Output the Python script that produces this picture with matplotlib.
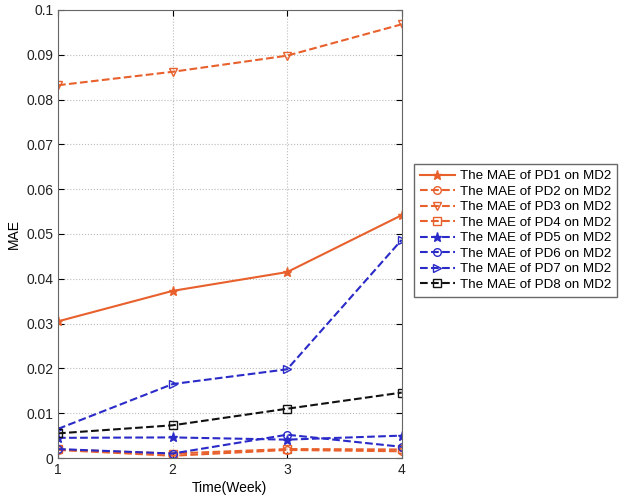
import matplotlib
matplotlib.use("Agg")
import matplotlib.pyplot as plt

plt.rcParams['font.family'] = ['Liberation Sans', 'DejaVu Sans']

weeks = [1, 2, 3, 4]
labels = ['The MAE of PD%d on MD2' % i for i in range(1, 9)]

pd1 = [0.0305, 0.0373, 0.0415, 0.0542]
pd2 = [0.0018, 0.0005, 0.0018, 0.0015]
pd3 = [0.0832, 0.0862, 0.0898, 0.0968]
pd4 = [0.0019, 0.0010, 0.0020, 0.0019]
pd5 = [0.0045, 0.0046, 0.0041, 0.0050]
pd6 = [0.0020, 0.0010, 0.0052, 0.0025]
pd7 = [0.0065, 0.0165, 0.0198, 0.0487]
pd8 = [0.0055, 0.0073, 0.0110, 0.0146]

orange = '#e8602c'
blue = '#2a2ac8'
black = '#111111'

series = [pd1, pd2, pd3, pd4, pd5, pd6, pd7, pd8]
colors = [orange, orange, orange, orange, blue, blue, blue, black]
markers = ['*', 'o', 'v', 's', '*', 'o', '>', 's']
styles = ['-', '--', '--', '--', '--', '--', '--', '--']

fig = plt.figure(figsize=(6.19, 4.98), dpi=100)
ax = fig.add_axes([0.0937, 0.0803, 0.5553, 0.8997])

for y, c, m, ls, lab in zip(series, colors, markers, styles, labels):
    ax.plot(weeks, y, color=c, marker=m, linestyle=ls, linewidth=1.5,
            markersize=6.5 if m == '*' else 5.5, markerfacecolor='none' if m != '*' else c,
            markeredgewidth=1.0, label=lab)

ax.set_xlim(1, 4)
ax.set_ylim(0, 0.1)
ax.set_xticks(weeks)
ax.set_yticks([i / 100 for i in range(11)])
ax.set_yticklabels(['0'] + ['%.2f' % (i / 100) for i in range(1, 10)] + ['0.1'])
ax.tick_params(direction='in', top=True, right=True, labelsize=10, length=4,
               labelcolor='#222222')
ax.grid(True, linestyle=':', color='#bbbbbb', linewidth=0.8)
for s in ax.spines.values():
    s.set_color('#666666')
ax.set_xlabel('Time(Week)', fontsize=10, labelpad=3)
ax.set_ylabel('MAE', fontsize=10)

fig.legend(loc='upper left', bbox_to_anchor=(0.669, 0.671), fontsize=9.6,
           handlelength=2.6, handletextpad=0.4, frameon=True, fancybox=False,
           edgecolor='#444444', labelspacing=0.24, borderpad=0.45,
           borderaxespad=0.0)

fig.savefig('out.png', dpi=100)
